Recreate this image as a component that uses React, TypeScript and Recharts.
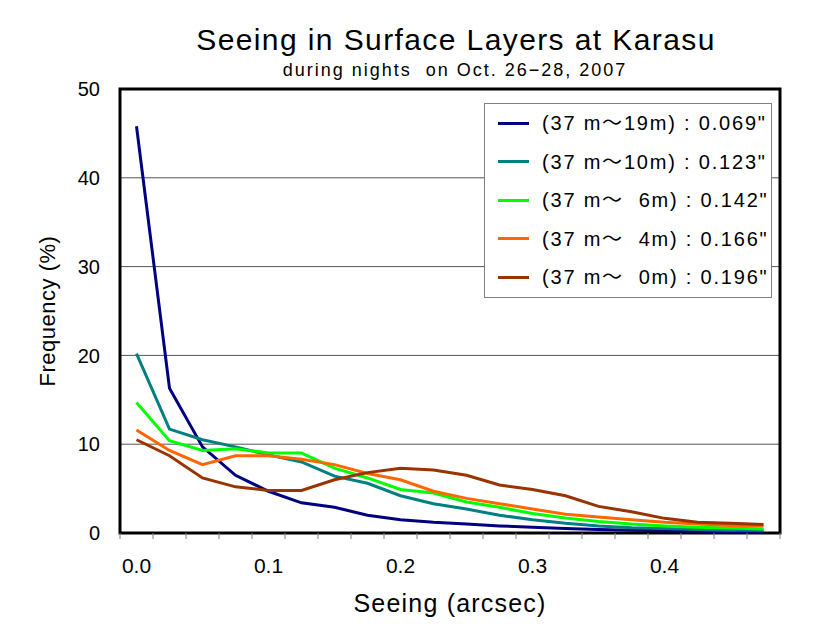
import React from 'react';
import { LineChart, Line, XAxis, YAxis, CartesianGrid, ReferenceArea } from 'recharts';

// Seeing bins (arcsec), bin centres
const seeing = [0, 0.025, 0.05, 0.075, 0.1, 0.125, 0.15, 0.175, 0.2, 0.225, 0.25, 0.275, 0.3, 0.325, 0.35, 0.375, 0.4, 0.425, 0.45, 0.475];

// Frequency (%) per layer
const layer19 = [45.8, 16.3, 9.7, 6.5, 4.7, 3.4, 2.9, 2.0, 1.5, 1.2, 1.0, 0.8, 0.65, 0.5, 0.4, 0.3, 0.25, 0.2, 0.15, 0.1];
const layer10 = [20.2, 11.7, 10.5, 9.7, 8.8, 8.0, 6.4, 5.6, 4.2, 3.3, 2.7, 2.0, 1.5, 1.1, 0.8, 0.6, 0.5, 0.4, 0.3, 0.3];
const layer6 = [14.7, 10.4, 9.3, 9.5, 9.0, 9.0, 7.3, 6.2, 4.9, 4.5, 3.5, 2.9, 2.2, 1.7, 1.3, 1.0, 0.8, 0.65, 0.55, 0.45];
const layer4 = [11.6, 9.3, 7.7, 8.7, 8.7, 8.3, 7.7, 6.7, 6.0, 4.7, 3.9, 3.3, 2.7, 2.1, 1.8, 1.5, 1.2, 1.0, 0.85, 0.8];
const layer0 = [10.5, 8.7, 6.2, 5.2, 4.8, 4.8, 6.0, 6.8, 7.3, 7.1, 6.5, 5.4, 4.9, 4.2, 3.0, 2.4, 1.65, 1.2, 1.1, 0.95];

const seriesKeys = ['l19', 'l10', 'l6', 'l4', 'l0'];
const seriesValues = [layer19, layer10, layer6, layer4, layer0];
const seriesNames = [
  '(37 m\u301C19m) : 0.069"',
  '(37 m\u301C10m) : 0.123"',
  '(37 m\u301C  6m) : 0.142"',
  '(37 m\u301C  4m) : 0.166"',
  '(37 m\u301C  0m) : 0.196"',
];
const seriesColors = ['#000080', '#008080', '#00FF00', '#FF6600', '#993300'];

const xTickLabels = [0, 0.1, 0.2, 0.3, 0.4];
const yTicks = [0, 10, 20, 30, 40, 50];
const binHalf = 0.0125;

const data = seeing.map((s, i) => {
  const row: Record<string, number> = { seeing: s };
  seriesKeys.forEach((k, j) => {
    row[k] = seriesValues[j][i];
  });
  return row;
});

const xMin = seeing[0] - binHalf;
const xMax = seeing[seeing.length - 1] + binHalf;
const boundaries = [...seeing.map((s) => s - binHalf), xMax];

const FONT = "'Liberation Sans', Arial, 'Noto Sans CJK JP', sans-serif";

export default function App() {
  return (
    <div style={{ position: 'absolute', left: 0, top: 0, width: 822, height: 628, background: '#fff', fontFamily: FONT }}>
      <LineChart width={822} height={628} data={data} margin={{ top: 89, right: 42, bottom: 50, left: 40 }}>
        <CartesianGrid xAxisId="b_labels" vertical={false} stroke="#555" strokeWidth={1} />
        <XAxis
          xAxisId="a_ticks"
          type="number"
          dataKey="seeing"
          domain={[xMin, xMax]}
          allowDataOverflow
          ticks={boundaries}
          interval={0}
          tickFormatter={() => ''}
          tickLine={{ stroke: '#808080', strokeWidth: 1 }}
          tickSize={6}
          axisLine={false}
          height={17}
        />
        <XAxis
          xAxisId="b_labels"
          type="number"
          dataKey="seeing"
          domain={[xMin, xMax]}
          allowDataOverflow
          ticks={xTickLabels}
          interval={0}
          tickFormatter={(v: number) => v.toFixed(1)}
          tickLine={false}
          axisLine={false}
          tickSize={0}
          tickMargin={8}
          height={28}
          tick={{ fontSize: 21, fill: '#000', fontFamily: FONT }}
          label={{ value: 'Seeing (arcsec)', position: 'bottom', offset: 16, fontSize: 25, fill: '#000', fontFamily: FONT, style: { letterSpacing: '1.2px' } }}
        />
        <YAxis
          type="number"
          domain={[0, 50]}
          ticks={yTicks}
          interval={0}
          width={80}
          tickLine={false}
          axisLine={false}
          tickSize={0}
          tickMargin={20}
          tick={{ fontSize: 20, fill: '#000', fontFamily: FONT }}
          label={{ value: 'Frequency (%)', angle: -90, position: 'insideLeft', offset: 7, fontSize: 22, fill: '#000', fontFamily: FONT, style: { textAnchor: 'middle', letterSpacing: '0.5px' } }}
        />
        <ReferenceArea xAxisId="b_labels" x1={xMin} x2={xMax} y1={0} y2={50} fill="none" fillOpacity={0} stroke="#000" strokeWidth={3} />
        {seriesKeys.map((k, j) => (
          <Line
            key={k}
            xAxisId="b_labels"
            type="linear"
            dataKey={k}
            name={seriesNames[j]}
            stroke={seriesColors[j]}
            strokeWidth={3}
            dot={false}
            activeDot={false}
            isAnimationActive={false}
          />
        ))}
      </LineChart>
      <svg width={822} height={628} style={{ position: 'absolute', left: 0, top: 0, pointerEvents: 'none' }}>
        <text x={456} y={50} textAnchor="middle" fontSize={30} fill="#000" fontFamily={FONT} style={{ letterSpacing: '1.4px' }}>
          Seeing in Surface Layers at Karasu
        </text>
        <text x={455} y={76} textAnchor="middle" fontSize={18} fill="#000" fontFamily={FONT} style={{ letterSpacing: '2px', whiteSpace: 'pre' }}>
          {'during nights  on Oct. 26\u221228, 2007'}
        </text>
      </svg>
      <div
        style={{
          position: 'absolute',
          left: 484,
          top: 103,
          width: 288,
          height: 195,
          border: '1px solid #808080',
          background: '#fff',
          boxSizing: 'border-box',
        }}
      >
        {seriesNames.map((n, j) => (
          <div
            key={n}
            style={{
              position: 'absolute',
              left: 0,
              top: j * 38.5,
              height: 38.5,
              display: 'flex',
              alignItems: 'center',
            }}
          >
            <div style={{ marginLeft: 13, width: 31, height: 3, background: seriesColors[j] }} />
            <div
              style={{
                marginLeft: 13,
                fontSize: 20,
                color: '#000',
                whiteSpace: 'pre',
                letterSpacing: '1.8px',
                fontFamily: FONT,
                lineHeight: '20px',
              }}
            >
              {n}
            </div>
          </div>
        ))}
      </div>
    </div>
  );
}
